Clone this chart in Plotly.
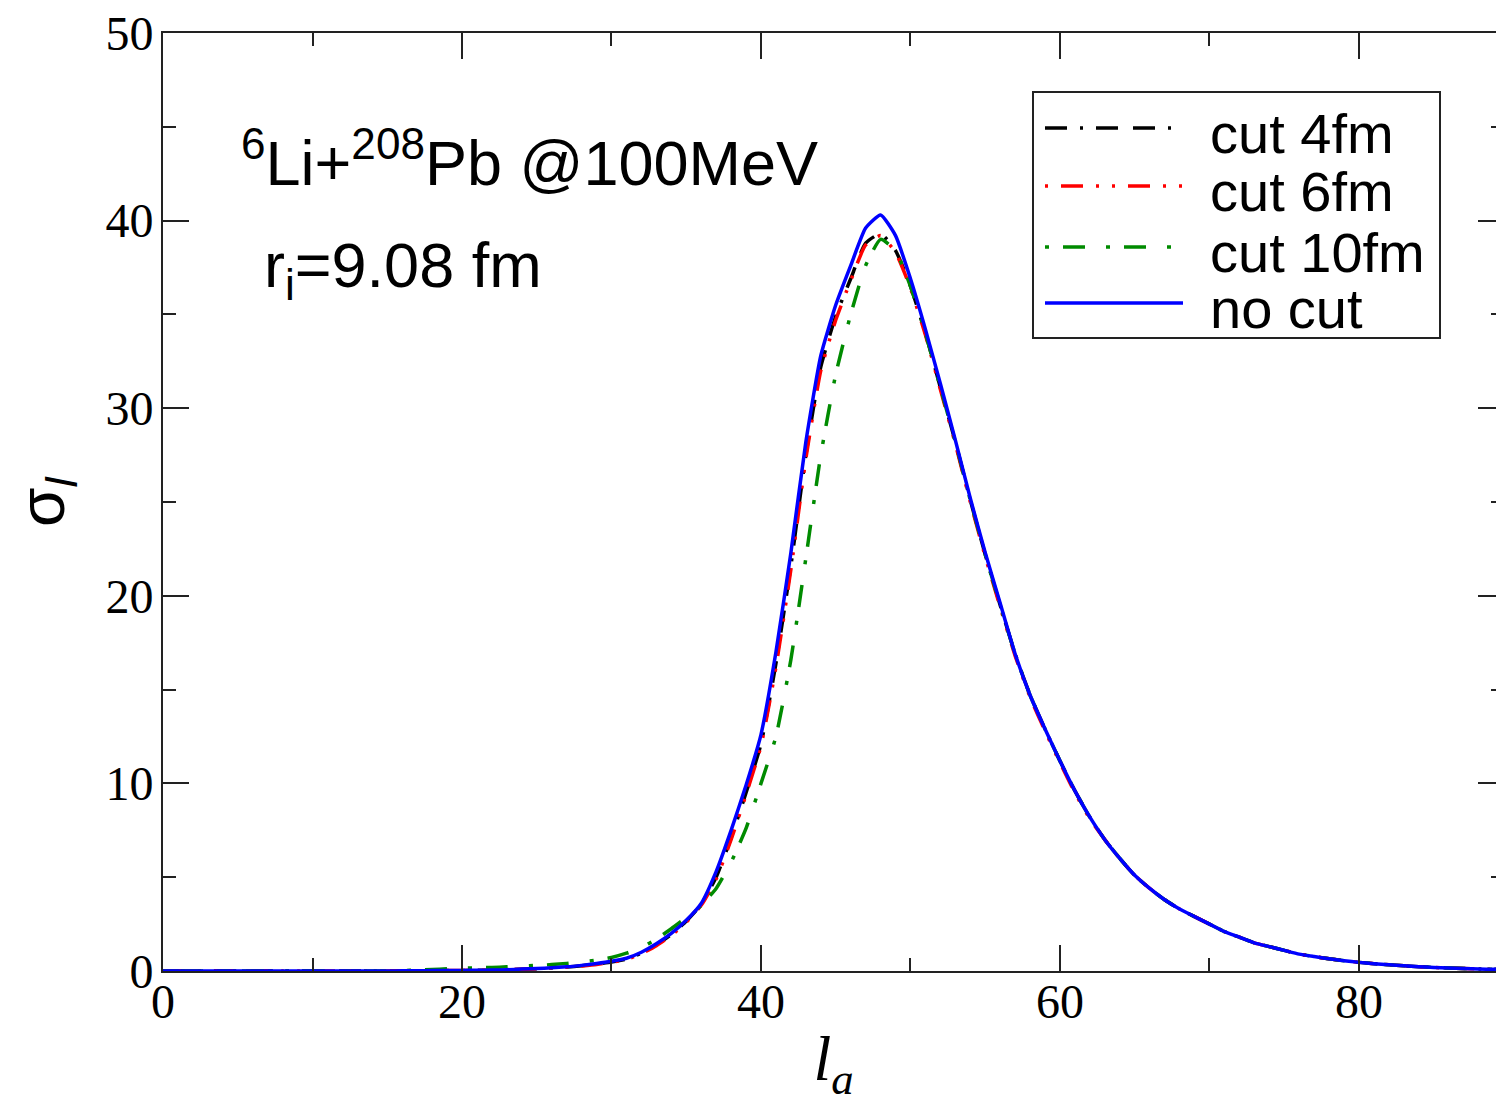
import plotly.graph_objects as go

# angular momentum l_a
l_vals = list(range(0, 91))

# cross section sigma_l for the four calculations
cut4 = [0, 0, 0, 0, 0, 0, 0, 0, 0, 0, 0, 0, 0, 0, 0, 0,
        0.01, 0.01, 0.02, 0.02, 0.03, 0.04, 0.05, 0.07, 0.09, 0.12, 0.16, 0.21,
        0.28, 0.37, 0.48, 0.64, 0.95, 1.4, 1.95, 2.65, 3.55, 5.0, 7.1, 9.5,
        12.1, 16.4, 21.6, 27.5, 32.2, 34.9, 36.9, 38.8, 39.3, 38.4, 36.5, 34.0,
        31.1, 28.2, 25.1, 22.2, 19.5, 16.9, 14.7, 12.9, 11.2, 9.6, 8.2, 7.0,
        6.0, 5.1, 4.4, 3.8, 3.3, 2.9, 2.5, 2.1, 1.8, 1.5, 1.3, 1.1, 0.9, 0.77,
        0.65, 0.55, 0.46, 0.39, 0.33, 0.28, 0.23, 0.19, 0.16, 0.13, 0.11, 0.09, 0.08]
cut6 = [0, 0, 0, 0, 0, 0, 0, 0, 0, 0, 0, 0, 0, 0, 0, 0,
        0.01, 0.01, 0.02, 0.02, 0.03, 0.04, 0.05, 0.07, 0.09, 0.12, 0.16, 0.2,
        0.27, 0.35, 0.46, 0.62, 0.92, 1.35, 1.9, 2.6, 3.5, 4.9, 7.0, 9.4,
        12.0, 16.2, 21.4, 27.3, 32.0, 34.7, 36.8, 38.7, 39.2, 38.3, 36.4, 33.9,
        31.0, 28.1, 25.0, 22.1, 19.4, 16.8, 14.6, 12.8, 11.1, 9.5, 8.1, 7.0,
        6.0, 5.1, 4.4, 3.8, 3.3, 2.9, 2.5, 2.1, 1.8, 1.5, 1.3, 1.1, 0.9, 0.77,
        0.65, 0.55, 0.46, 0.39, 0.33, 0.28, 0.23, 0.19, 0.16, 0.13, 0.11, 0.09, 0.08]
cut10 = [0, 0, 0, 0, 0, 0, 0, 0, 0, 0, 0, 0, 0, 0, 0, 0,
         0.02, 0.05, 0.08, 0.12, 0.15, 0.17, 0.19, 0.22, 0.26, 0.3, 0.34, 0.4,
         0.48, 0.58, 0.72, 0.95, 1.25, 1.7, 2.25, 2.85, 3.5, 4.4, 5.8, 7.6,
         10.0, 12.5, 16.6, 22.0, 27.5, 31.8, 35.0, 37.6, 39.0, 38.4, 36.5, 34.0,
         31.1, 28.2, 25.1, 22.2, 19.5, 16.9, 14.7, 12.9, 11.2, 9.6, 8.2, 7.0,
         6.0, 5.1, 4.4, 3.8, 3.3, 2.9, 2.5, 2.1, 1.8, 1.5, 1.3, 1.1, 0.9, 0.77,
         0.65, 0.55, 0.46, 0.39, 0.33, 0.28, 0.23, 0.19, 0.16, 0.13, 0.11, 0.09, 0.08]
nocut = [0, 0, 0, 0, 0, 0, 0, 0, 0, 0, 0, 0, 0, 0, 0, 0,
         0.01, 0.01, 0.02, 0.02, 0.03, 0.04, 0.05, 0.07, 0.1, 0.13, 0.17, 0.22,
         0.3, 0.4, 0.52, 0.68, 1.0, 1.45, 2.0, 2.7, 3.6, 5.3, 7.5, 9.9,
         12.6, 17.0, 22.3, 28.2, 32.8, 35.5, 37.6, 39.6, 40.3, 39.2, 36.9, 34.2,
         31.3, 28.3, 25.2, 22.3, 19.6, 16.9, 14.7, 12.9, 11.2, 9.6, 8.2, 7.0,
         6.0, 5.1, 4.4, 3.8, 3.3, 2.9, 2.5, 2.1, 1.8, 1.5, 1.3, 1.1, 0.9, 0.77,
         0.65, 0.55, 0.46, 0.39, 0.33, 0.28, 0.23, 0.19, 0.16, 0.13, 0.11, 0.09, 0.08]

series = [
    ("cut 4fm", cut4, "black", "22px,13px,3px,13px,22px,15px"),
    ("cut 6fm", cut6, "#ff0000", "3px,13px,22px,13px,3px,13px"),
    ("cut 10fm", cut10, "#008b00", "4px,14px,22px,21px"),
    ("no cut", nocut, "#0000ff", "solid"),
]

# the page body adds an 8px offset, so layout is shifted to compensate
OFF = 8
W, H = 1504, 1113
ML, MT, MR, MB = 163 - OFF, 33 - OFF, OFF, H - 971 + OFF

fig = go.Figure()

for name, vals, color, dash in series:
    fig.add_trace(go.Scatter(
        x=l_vals, y=vals, mode="lines", name=name,
        line=dict(color=color, width=3.5, dash=dash, shape="spline", smoothing=0.5),
        showlegend=False,
    ))

# hand-made legend box (xmgrace style, long line samples); page pixel -> paper
def px_x(p):
    return (p - 163) / 1341

def px_y(p):
    return (971 - p) / 938

shapes = [dict(type="rect", xref="paper", yref="paper",
               x0=px_x(1033), x1=px_x(1440), y0=px_y(338), y1=px_y(92),
               line=dict(color="#222", width=2), fillcolor="white", layer="above")]
annotations = []
rows = [128, 186, 247, 303]
for (name, vals, color, dash), ry in zip(series, rows):
    shapes.append(dict(type="line", xref="paper", yref="paper",
                       x0=px_x(1045), x1=px_x(1183), y0=px_y(ry), y1=px_y(ry),
                       line=dict(color=color, width=3.5, dash=dash), layer="above"))
    annotations.append(dict(xref="paper", yref="paper", x=px_x(1208), y=px_y(ry + 5),
                            xanchor="left", yanchor="middle", showarrow=False,
                            text=name, font=dict(family="Liberation Sans", size=56, color="black")))

annotations.append(dict(xref="x", yref="y", x=5.1, y=43.3, xanchor="left", yanchor="middle",
                        showarrow=False, text="<sup>6</sup>Li+<sup>208</sup>Pb @100MeV",
                        font=dict(family="Liberation Sans", size=63, color="black")))
annotations.append(dict(xref="x", yref="y", x=6.6, y=37.4, xanchor="left", yanchor="middle",
                        showarrow=False, text="r<sub>i</sub>=9.08 fm",
                        font=dict(family="Liberation Sans", size=63, color="black")))
# y-axis title placed by hand (axis title standoff is not honoured without automargin)
annotations.append(dict(xref="paper", yref="paper", x=px_x(46), y=px_y(502),
                        xanchor="center", yanchor="middle", textangle=-90, showarrow=False,
                        text="σ<sub><i>l</i></sub>",
                        font=dict(family="Liberation Sans", size=64, color="black")))

axis_common = dict(
    showline=True, linecolor="#222", linewidth=2, mirror="ticks",
    ticks="inside", ticklen=26, tickwidth=2, tickcolor="#222",
    showgrid=False, zeroline=False, ticklabeloverflow="allow", automargin=False,
    tickfont=dict(family="Liberation Serif", size=48, color="black"),
)

fig.update_layout(
    width=W, height=H,
    margin=dict(l=ML, r=MR, t=MT, b=MB),
    paper_bgcolor="white", plot_bgcolor="white",
    xaxis=dict(range=[0, 89.7], tick0=0, dtick=20,
               minor=dict(dtick=10, ticks="inside", ticklen=13, tickwidth=2, tickcolor="#222"),
               title=dict(text="<i>l</i><sub><i>a</i></sub>", standoff=9,
                          font=dict(family="Liberation Serif", size=64, color="black")),
               ticklabelstandoff=-13,
               **axis_common),
    yaxis=dict(range=[0, 50], tick0=0, dtick=10,
               minor=dict(dtick=5, ticks="inside", ticklen=13, tickwidth=2, tickcolor="#222"),
               ticklabelstandoff=-2,
               **axis_common),
    shapes=shapes,
    annotations=annotations,
)

fig.write_html("out.html")
